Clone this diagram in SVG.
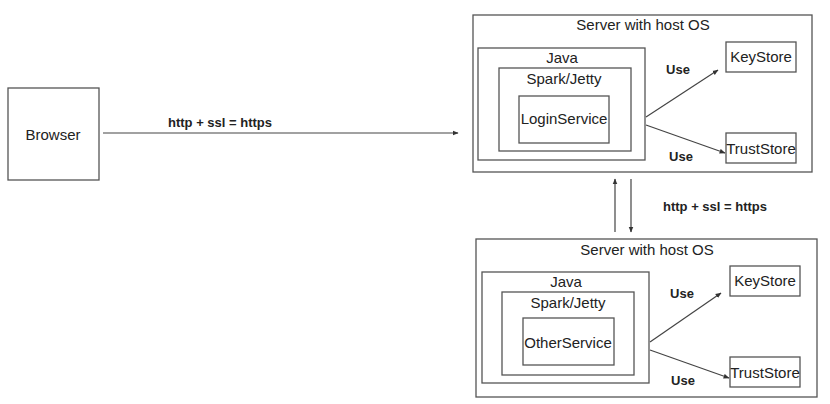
<svg xmlns="http://www.w3.org/2000/svg" width="830" height="404" viewBox="0 0 830 404">
<defs>
<marker id="ah" viewBox="0 0 10 10" refX="9" refY="5" markerWidth="5" markerHeight="5" orient="auto"><path d="M0,1 L10,5 L0,9 z" fill="#333"/></marker>
<style>
.box{fill:#fff;stroke:#555;stroke-width:1.3}
.t{font-family:"Liberation Sans",Arial,sans-serif;font-size:15px;fill:#222;text-anchor:middle}
.b{font-family:"Liberation Sans",Arial,sans-serif;font-size:13px;font-weight:bold;fill:#222;text-anchor:middle}
.c{stroke:#444;stroke-width:1.2;fill:none;marker-end:url(#ah)}
</style>
</defs>
<rect width="830" height="404" fill="#fff"/>
<g id="browser"><rect class="box" x="8" y="88" width="91" height="92"/><text class="t" x="53" y="140">Browser</text></g>
<g id="server1">
<rect class="box" x="473" y="15" width="339" height="157"/>
<text class="t" x="643" y="30">Server with host OS</text>
<g id="java1"><rect class="box" x="478" y="48" width="167" height="112"/><text class="t" x="562" y="63">Java</text></g>
<g id="spark1"><rect class="box" x="499" y="68" width="132" height="83"/><text class="t" x="564" y="84">Spark/Jetty</text></g>
<g id="login"><rect class="box" x="519" y="96" width="90" height="47"/><text class="t" x="564" y="124">LoginService</text></g>
<g id="keystore1"><rect class="box" x="726" y="42" width="70" height="30"/><text class="t" x="761" y="62">KeyStore</text></g>
<g id="truststore1"><rect class="box" x="726" y="133" width="70" height="30"/><text class="t" x="761" y="154">TrustStore</text></g>
</g>
<g id="server2">
<rect class="box" x="476" y="239" width="341" height="158"/>
<text class="t" x="647" y="255">Server with host OS</text>
<g id="java2"><rect class="box" x="482" y="272" width="167" height="111"/><text class="t" x="566" y="287">Java</text></g>
<g id="spark2"><rect class="box" x="502" y="292" width="132" height="83"/><text class="t" x="568" y="308">Spark/Jetty</text></g>
<g id="other"><rect class="box" x="523" y="318" width="91" height="47"/><text class="t" x="568" y="348">OtherService</text></g>
<g id="keystore2"><rect class="box" x="730" y="266" width="70" height="30"/><text class="t" x="765" y="286">KeyStore</text></g>
<g id="truststore2"><rect class="box" x="730" y="357" width="70" height="30"/><text class="t" x="765" y="378">TrustStore</text></g>
</g>
<g id="connectors">
<line class="c" x1="103" y1="133" x2="458" y2="133"/>
<text class="b" x="220" y="127">http + ssl = https</text>
<line class="c" x1="646" y1="117" x2="718" y2="70"/>
<line class="c" x1="646" y1="125" x2="725" y2="153"/>
<text class="b" x="678" y="74">Use</text>
<text class="b" x="681" y="161">Use</text>
<line class="c" x1="615" y1="232" x2="615" y2="179"/>
<line class="c" x1="631" y1="179" x2="631" y2="232"/>
<text class="b" x="715" y="211">http + ssl = https</text>
<line class="c" x1="650" y1="342" x2="721" y2="293"/>
<line class="c" x1="650" y1="350" x2="729" y2="378"/>
<text class="b" x="682" y="298">Use</text>
<text class="b" x="683" y="385">Use</text>
</g>
</svg>
